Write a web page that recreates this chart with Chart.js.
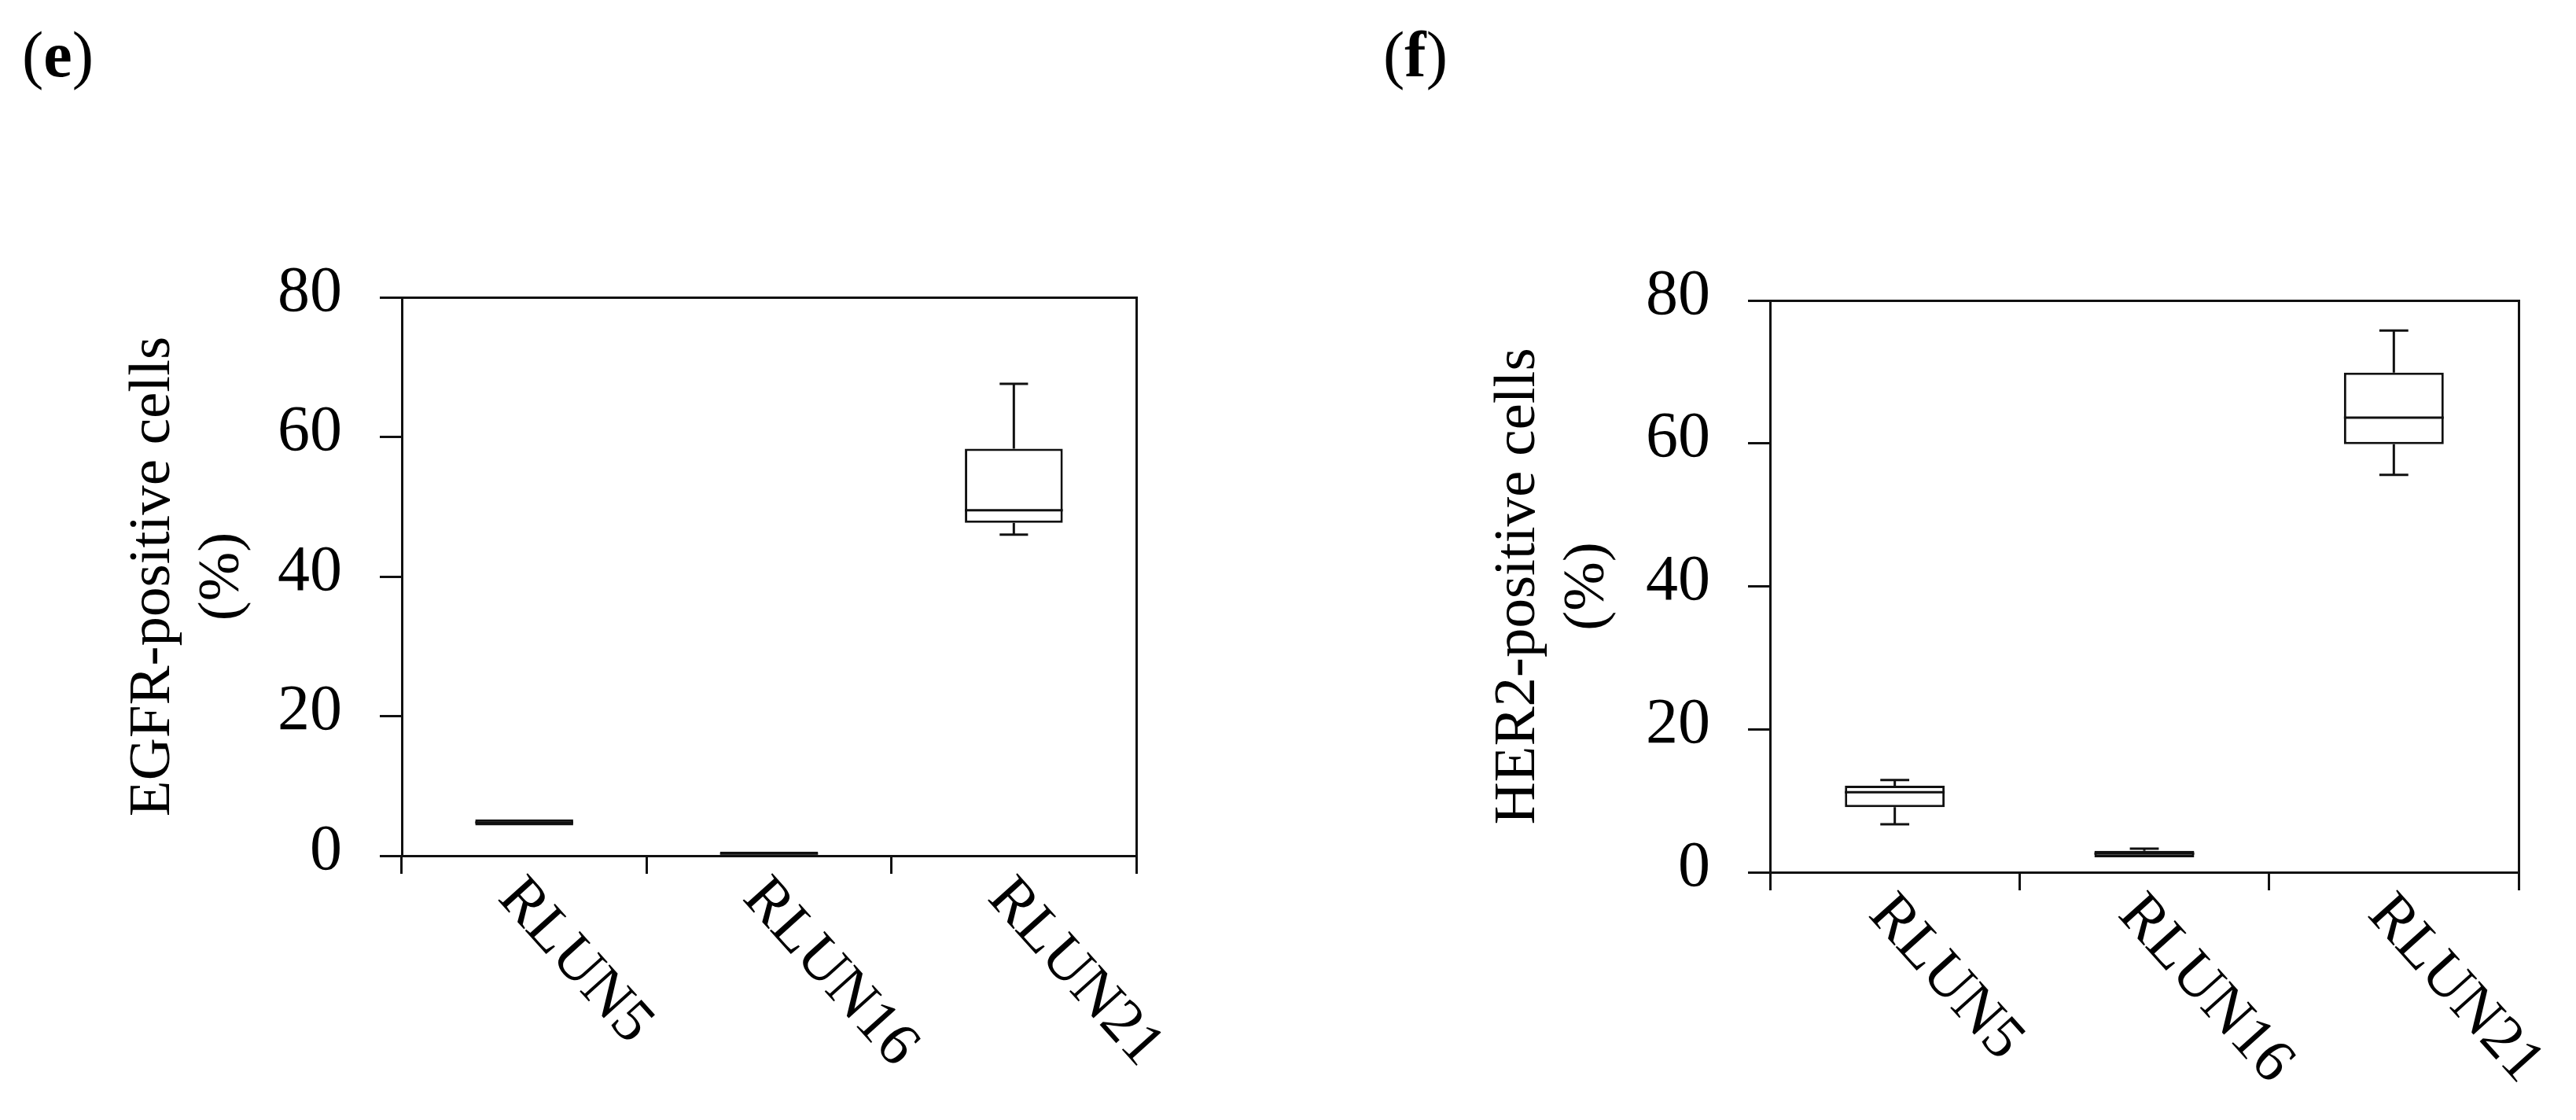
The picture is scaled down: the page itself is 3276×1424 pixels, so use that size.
<!DOCTYPE html>
<html>
<head>
<meta charset="utf-8">
<script src="https://cdn.jsdelivr.net/npm/chart.js@4.4.1/dist/chart.umd.min.js"></script>
<style>
html,body{margin:0;padding:0;background:#fff;width:3276px;height:1424px;overflow:hidden;}
.panel{position:absolute;font-family:'Liberation Serif',serif;font-size:82px;line-height:82px;color:#000;white-space:nowrap;}
canvas{position:absolute;top:0;}
</style>
</head>
<body>
<div class="panel" style="left:28px;top:29px">(<b>e</b>)</div>
<div class="panel" style="left:1759px;top:29px">(<b>f</b>)</div>
<canvas id="chartE" width="1640" height="1424" style="left:0px"></canvas>
<canvas id="chartF" width="1636" height="1424" style="left:1640px"></canvas>
<script>
// ---- data ----
const categories = ['RLUN5', 'RLUN16', 'RLUN21'];
const yTicks = [0, 20, 40, 60, 80];

const egfrMin    = [4.35, 0.0, 46.0];
const egfrQ1     = [4.35, 0.0, 47.7];
const egfrMedian = [4.75, 0.3, 49.5];
const egfrQ3     = [5.2,  0.6, 58.3];
const egfrMax    = [5.2,  0.6, 67.6];

const her2Min    = [6.7,  2.1, 55.6];
const her2Q1     = [9.1,  2.1, 59.9];
const her2Median = [11.2, 2.6, 63.6];
const her2Q3     = [12.1, 3.0, 69.9];
const her2Max    = [12.9, 3.3, 75.8];

const lineColor = '#111111';
Chart.defaults.font.family = "'Liberation Serif', serif";
Chart.defaults.color = '#000';

// ---- plugins ----
const boxPlugin = {
  id: 'boxWhisker',
  afterDatasetsDraw(chart, args, o) {
    const {ctx, scales: {x, y}} = chart;
    const meta = chart.getDatasetMeta(0);
    ctx.save();
    ctx.strokeStyle = o.color;
    ctx.lineWidth = o.lineWidth;
    o.median.forEach((m, i) => {
      const bar = meta.data[i];
      const cx = x.getPixelForValue(i);
      const half = bar.width / 2;
      const capHalf = bar.width * o.capFraction / 2;
      const yMin = y.getPixelForValue(o.min[i]);
      const yQ1 = y.getPixelForValue(o.q1[i]);
      const yMed = y.getPixelForValue(m);
      const yQ3 = y.getPixelForValue(o.q3[i]);
      const yMax = y.getPixelForValue(o.max[i]);
      ctx.beginPath();
      if (o.max[i] > o.q3[i]) {
        ctx.moveTo(cx, yQ3); ctx.lineTo(cx, yMax);
        ctx.moveTo(cx - capHalf, yMax); ctx.lineTo(cx + capHalf, yMax);
      }
      if (o.min[i] < o.q1[i]) {
        ctx.moveTo(cx, yQ1); ctx.lineTo(cx, yMin);
        ctx.moveTo(cx - capHalf, yMin); ctx.lineTo(cx + capHalf, yMin);
      }
      ctx.moveTo(cx - half, yMed); ctx.lineTo(cx + half, yMed);
      ctx.stroke();
    });
    ctx.restore();
  }
};

const framePlugin = {
  id: 'frame',
  afterDatasetsDraw(chart, args, o) {
    const {ctx, chartArea: {left, right, top, bottom}} = chart;
    ctx.save();
    ctx.strokeStyle = o.color;
    ctx.lineWidth = o.lineWidth;
    ctx.beginPath();
    ctx.moveTo(left, top + 0.5);
    ctx.lineTo(right + 0.5, top + 0.5);
    ctx.lineTo(right + 0.5, bottom);
    ctx.stroke();
    ctx.restore();
  }
};

const rotLabelPlugin = {
  id: 'rotLabels',
  afterDraw(chart, args, o) {
    const {ctx, scales: {x}, chartArea} = chart;
    ctx.save();
    ctx.font = o.font;
    ctx.fillStyle = o.color;
    ctx.textAlign = 'left';
    ctx.textBaseline = 'top';
    x.getLabels().forEach((lab, i) => {
      const px = x.getPixelForValue(i);
      ctx.save();
      ctx.translate(px + o.dx, chartArea.bottom + o.dy);
      ctx.rotate(o.angle * Math.PI / 180);
      ctx.fillText(lab, 0, 0);
      ctx.restore();
    });
    ctx.restore();
  }
};

function makeChart(id, cfg) {
  return new Chart(document.getElementById(id), {
    type: 'bar',
    data: {
      labels: categories,
      datasets: [{
        data: cfg.q1.map((v, i) => [v, cfg.q3[i]]),
        backgroundColor: '#ffffff',
        borderColor: lineColor,
        borderWidth: 3,
        borderSkipped: false,
        barPercentage: 0.4,
        categoryPercentage: 1.0
      }]
    },
    options: {
      responsive: false,
      animation: false,
      events: [],
      layout: {padding: cfg.padding},
      plugins: {
        legend: {display: false},
        tooltip: {enabled: false},
        boxWhisker: {min: cfg.min, q1: cfg.q1, median: cfg.median, q3: cfg.q3, max: cfg.max,
                     color: lineColor, lineWidth: 3, capFraction: 0.29},
        frame: {color: lineColor, lineWidth: 3},
        rotLabels: {font: "78px 'Liberation Serif'", color: '#000', angle: 48, dx: 9, dy: 15}
      },
      scales: {
        x: {
          type: 'category',
          offset: true,
          grid: {offset: true, display: true, drawOnChartArea: false, drawTicks: true,
                 tickLength: 23, lineWidth: 3, color: lineColor},
          border: {display: true, width: 3, color: lineColor},
          ticks: {display: false},
          afterFit: s => { s.height = cfg.xHeight; }
        },
        y: {
          min: 0, max: 80,
          afterBuildTicks: s => { s.ticks = yTicks.map(v => ({value: v})); },
          grid: {drawOnChartArea: false, drawTicks: true, tickLength: 28, lineWidth: 3, color: lineColor},
          border: {display: true, width: 3, color: lineColor},
          ticks: {font: {size: 82}, color: '#000', padding: 48, labelOffset: -5},
          title: {display: true, text: [cfg.title, '(%)'], color: '#000',
                  font: {size: 75, lineHeight: 1.173}, padding: {top: 1, bottom: 0}},
          afterFit: s => { s.width = cfg.yWidth; }
        }
      }
    },
    plugins: [boxPlugin, framePlugin, rotLabelPlugin]
  });
}

makeChart('chartE', {
  title: 'EGFR-positive cells',
  min: egfrMin, q1: egfrQ1, median: egfrMedian, q3: egfrQ3, max: egfrMax,
  padding: {left: 150, right: 195, top: 378, bottom: 0},
  yWidth: 361, xHeight: 336
});

makeChart('chartF', {
  title: 'HER2-positive cells',
  min: her2Min, q1: her2Q1, median: her2Median, q3: her2Q3, max: her2Max,
  padding: {left: 246, right: 73, top: 382, bottom: 0},
  yWidth: 365, xHeight: 315
});
</script>
</body>
</html>
